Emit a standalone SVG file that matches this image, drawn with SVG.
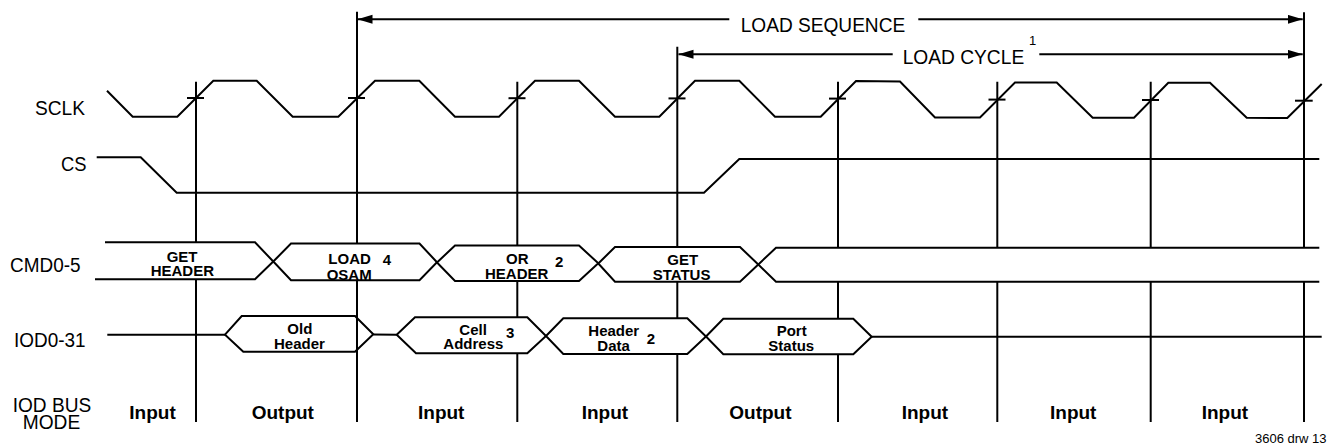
<svg xmlns="http://www.w3.org/2000/svg" width="1332" height="445" viewBox="0 0 1332 445">
<defs>
<marker id="ah" markerUnits="userSpaceOnUse" markerWidth="16" markerHeight="10" refX="15" refY="4.5" orient="auto"><path d="M0,0 L15,4.5 L0,9 Z" fill="#000"/></marker>
</defs>
<style>
.w{fill:none;stroke:#000;stroke-width:2}
.bx{fill:#fff;stroke:#000;stroke-width:2}
.ob{fill:none;stroke:#000;stroke-width:2}
.sig{font-family:"Liberation Sans",Arial,Helvetica,sans-serif;font-size:20px;fill:#000}
.ttl{font-family:"Liberation Sans",Arial,Helvetica,sans-serif;font-size:20px;fill:#000}
.b{font-family:"Liberation Sans",Arial,Helvetica,sans-serif;font-weight:bold;font-size:15px;fill:#000}
.m{font-family:"Liberation Sans",Arial,Helvetica,sans-serif;font-weight:bold;font-size:19px;fill:#000}
.sm{font-family:"Liberation Sans",Arial,Helvetica,sans-serif;font-size:13px;fill:#000}
</style>
<rect width="1332" height="445" fill="#fff"/>

<g id="labels">
<text class="sig" x="35" y="115" textLength="50" lengthAdjust="spacingAndGlyphs">SCLK</text>
<text class="sig" x="61" y="171" textLength="25.5" lengthAdjust="spacingAndGlyphs">CS</text>
<text class="sig" x="10" y="271.7" textLength="70.5" lengthAdjust="spacingAndGlyphs">CMD0-5</text>
<text class="sig" x="14" y="346.6" textLength="71.5" lengthAdjust="spacingAndGlyphs">IOD0-31</text>
<text class="sig" x="12.7" y="411.7" textLength="78.5" lengthAdjust="spacingAndGlyphs">IOD BUS</text>
<text class="sig" x="22.7" y="429.3" textLength="57.5" lengthAdjust="spacingAndGlyphs">MODE</text>
</g>

<g id="connectors">
<line class="w" x1="196" y1="81.7" x2="196" y2="422"/>
<line class="w" x1="357" y1="11.7" x2="357" y2="422"/>
<line class="w" x1="517.3" y1="81.7" x2="517.3" y2="422"/>
<line class="w" x1="677.3" y1="46.7" x2="677.3" y2="422"/>
<line class="w" x1="838" y1="81.7" x2="838" y2="422"/>
<line class="w" x1="997.3" y1="81.7" x2="997.3" y2="422"/>
<line class="w" x1="1150.7" y1="81.7" x2="1150.7" y2="422"/>
<line class="w" x1="1304" y1="12.3" x2="1304" y2="422"/>
<line class="w" x1="729.3" y1="19.3" x2="357.5" y2="19.3" marker-end="url(#ah)"/>
<line class="w" x1="918.3" y1="19.3" x2="1302.7" y2="19.3" marker-end="url(#ah)"/>
<line class="w" x1="892.7" y1="54.3" x2="678.5" y2="54.3" marker-end="url(#ah)"/>
<line class="w" x1="1039.3" y1="54.3" x2="1302.7" y2="54.3" marker-end="url(#ah)"/>
</g>

<g id="annotations">
<text class="ttl" x="740.7" y="31.7" textLength="164.5" lengthAdjust="spacingAndGlyphs">LOAD SEQUENCE</text>
<text class="ttl" x="902.7" y="64" textLength="121.5" lengthAdjust="spacingAndGlyphs">LOAD CYCLE</text>
<text class="sm" x="1029" y="45">1</text>
</g>

<g id="sclk">
<polyline class="w" points="107,90.7 132.7,116.7 177.3,116.7 213.3,80.7 256.7,80.7 292.7,116.7 338.3,116.7 375,80.7 419.3,80.7 455,116.7 499,116.7 535,80.7 579,80.7 615,116.7 659.3,116.7 695,80.7 739.3,80.7 775,116.7 820.7,116.7 856,81 900,81.5 935,117.5 980,117.5 1015,82.5 1056.7,82.5 1092.7,117.7 1134,117.7 1168.3,82.7 1210,82.7 1246.7,117.8 1287.3,118 1321.7,84"/>
<line class="w" x1="187" y1="98" x2="204" y2="98"/>
<line class="w" x1="348" y1="98" x2="365" y2="98"/>
<line class="w" x1="508.5" y1="98.2" x2="525.5" y2="98.2"/>
<line class="w" x1="668.5" y1="98.4" x2="685.5" y2="98.4"/>
<line class="w" x1="829" y1="98.6" x2="846" y2="98.6"/>
<line class="w" x1="988.5" y1="99.6" x2="1005.5" y2="99.6"/>
<line class="w" x1="1142" y1="100" x2="1159" y2="100"/>
<line class="w" x1="1295" y1="100.7" x2="1312.7" y2="100.7"/>
</g>

<g id="cs">
<polyline class="w" points="96.7,157.3 140.7,157.3 176.7,192.7 704,192.7 739.3,159 1319.3,159"/>
</g>

<g id="cmd">
<g id="cmd-get-header">
<path class="bx" d="M105,242.3 H255 L273.3,261.5 L255,279.3 H95"/>
<text class="b" x="166.7" y="261.7">GET</text>
<text class="b" x="150.7" y="276">HEADER</text>
</g>
<g id="cmd-load-osam">
<polygon class="bx" points="273.3,261.5 291,243.5 419.5,243.5 437,262.3 419.5,280.3 291,280.3"/>
<text class="b" x="328.3" y="264">LOAD</text>
<text class="b" x="382.7" y="265">4</text>
<text class="b" x="326.7" y="279.5">OSAM</text>
</g>
<g id="cmd-or-header">
<polygon class="bx" points="437,262.5 455,245.5 579,245.5 598.3,263.3 579,281 455,281"/>
<text class="b" x="506" y="264.3">OR</text>
<text class="b" x="555" y="266.7">2</text>
<text class="b" x="485" y="279.3">HEADER</text>
</g>
<g id="cmd-get-status">
<polygon class="bx" points="598.3,263.5 615,247 740,247 758.3,264.5 740,281.7 615,281.7"/>
<text class="b" x="667.3" y="264.7">GET</text>
<text class="b" x="652.7" y="280">STATUS</text>
</g>
<g id="cmd-idle">
<path class="bx" d="M1319.3,247.7 H776 L758.3,264.5 L776,281.7 H1319.3"/>
</g>
</g>

<g id="iod">
<line class="w" x1="107.3" y1="334.7" x2="225" y2="334.7"/>
<g id="iod-old-header">
<polygon class="ob" points="225,334.7 241.7,316 355,316 373.3,334.3 355,351.7 243.3,351.7"/>
<text class="b" x="287.3" y="334">Old</text>
<text class="b" x="274" y="349.3">Header</text>
</g>
<line class="w" x1="373.3" y1="334.5" x2="396.7" y2="334.7"/>
<g id="iod-cell-address">
<polygon class="bx" points="396.7,334.7 415,317.3 527.3,317.3 546,336 527.3,353.3 416,353.3"/>
<text class="b" x="459.3" y="334.7">Cell</text>
<text class="b" x="506" y="337.7">3</text>
<text class="b" x="443.3" y="349">Address</text>
</g>
<g id="iod-header-data">
<polygon class="bx" points="546,336 563.3,318.3 687.3,318.3 706,336.5 687.3,354 563.3,354"/>
<text class="b" x="588.3" y="335.7">Header</text>
<text class="b" x="646.7" y="344.3">2</text>
<text class="b" x="597.3" y="350.7">Data</text>
</g>
<g id="iod-port-status">
<polygon class="bx" points="706,336.5 723.3,318.7 853.3,318.7 871.7,336.7 853.3,354.3 723.3,354.3"/>
<text class="b" x="776.7" y="336">Port</text>
<text class="b" x="768.3" y="351">Status</text>
</g>
<line class="w" x1="871.7" y1="336.7" x2="1321.7" y2="336.7"/>
</g>

<g id="bus-mode">
<text class="m" x="129.3" y="419.3">Input</text>
<text class="m" x="251.7" y="419.3">Output</text>
<text class="m" x="418" y="419.3">Input</text>
<text class="m" x="581.7" y="419.3">Input</text>
<text class="m" x="729.3" y="419.3">Output</text>
<text class="m" x="901.7" y="419.3">Input</text>
<text class="m" x="1050" y="419.3">Input</text>
<text class="m" x="1201.7" y="419.3">Input</text>
</g>

<text class="sm" x="1255" y="442.7">3606 drw 13</text>
</svg>
